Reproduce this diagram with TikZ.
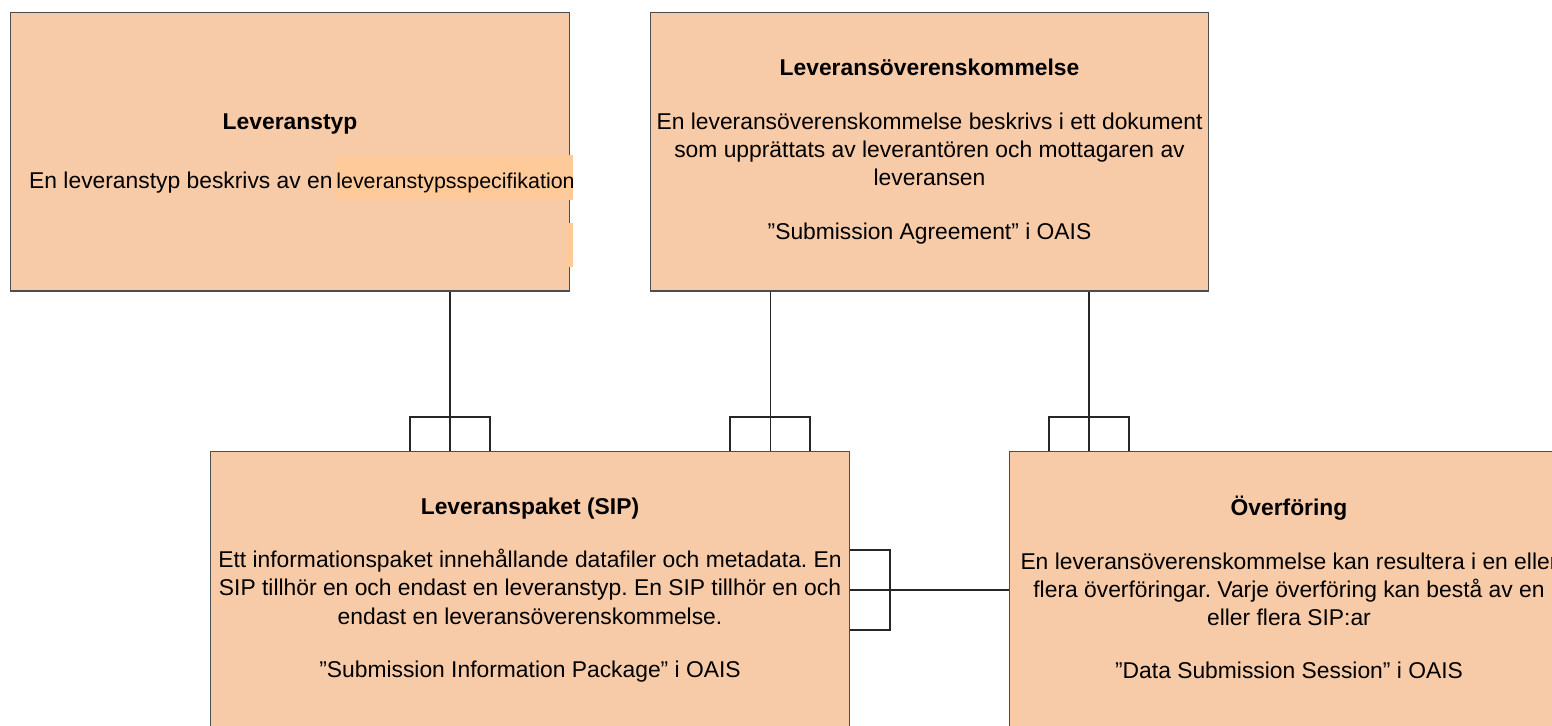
\documentclass[tikz,border=0pt]{standalone}
\usepackage{fontspec}
\setmainfont{Liberation Sans}
\frenchspacing
\definecolor{boxfill}{HTML}{F8CBA8}
\definecolor{markfill}{HTML}{FFCA9A}
\definecolor{rim}{HTML}{4D4D4D}
\tikzset{
  entity/.style={draw=rim, fill=boxfill, line width=0.6pt, inner sep=0pt},
  boxtext/.style={align=center, font=\fontsize{13}{16}\selectfont, inner sep=0pt},
  link/.style={draw=black!85, line width=0.6pt}
}
\begin{document}
\begin{tikzpicture}[x=0.02cm, y=-0.02cm]
    \useasboundingbox (0,0) rectangle (1552,725);
    \clip (0,0) rectangle (1552,725);

      %%boxes
      \node[entity, minimum width=11.2cm, minimum height=5.58cm] (typ) at (290,151.5) {};
      \node[entity, minimum width=11.18cm, minimum height=5.58cm] (avtal) at (929.5,151.5) {};
      \node[entity, minimum width=12.8cm, minimum height=5.56cm] (sip) at (530,590) {};
      \node[entity, minimum width=11.2cm, minimum height=5.56cm] (overf) at (1289,590) {};

      %%marked word
      \fill[markfill] (335,155) rectangle (573,200);
      \fill[markfill] (566,223) rectangle (573,267);

      %%texts
      \node[boxtext, font=\fontsize{13}{16}\selectfont\bfseries] (typtitle) at (290,124) {Leveranstyp};
      \node[boxtext, anchor=base east] (typbody) at (333,188) {En leveranstyp beskrivs av en};
      \node[boxtext, anchor=base west, font=\fontsize{12.2}{16}\selectfont] (typword)
        at ([xshift=0.06cm]typbody.base east) {leveranstypsspecifikation};
      \node[boxtext] (avtaltext) at (avtal) {\textbf{Leveransöverenskommelse}\\[14.5pt]
        En leveransöverenskommelse beskrivs i ett dokument\\
        som upprättats av leverantören och mottagaren av\\
        leveransen\\[14.5pt]
        ”Submission Agreement” i OAIS};
      \node[boxtext] (siptext) at (sip) {\textbf{Leveranspaket (SIP)}\\[14.5pt]
        Ett informationspaket innehållande datafiler och metadata. En\\
        SIP tillhör en och endast en leveranstyp. En SIP tillhör en och\\
        endast en leveransöverenskommelse.\\[14.5pt]
        ”Submission Information Package” i OAIS};
      \node[boxtext] (overftext) at ([yshift=0.05cm]overf) {\textbf{Överföring}\\[14.5pt]
        En leveransöverenskommelse kan resultera i en eller\\
        flera överföringar. Varje överföring kan bestå av en\\
        eller flera SIP:ar\\[14.5pt]
        ”Data Submission Session” i OAIS};

      %%lines
      \draw[link] ([xshift=3.2cm]typ.south) -- ([xshift=3.2cm]typ.south |- sip.north);
      \draw[link] ([xshift=-3.19cm]avtal.south) -- ([xshift=-3.19cm]avtal.south |- sip.north);
      \draw[link] ([xshift=3.19cm]avtal.south) -- ([xshift=3.19cm]avtal.south |- overf.north);
      \draw[link] (sip.east) -- (overf.west);

      %%ends
      \foreach \x in {450,770,1089}
        \draw[link] (\x-40,451) |- (\x+40,417) -- (\x+40,451);
      \draw[link] (850,550) -| (890,630) -- (850,630);

\end{tikzpicture}
\end{document}
